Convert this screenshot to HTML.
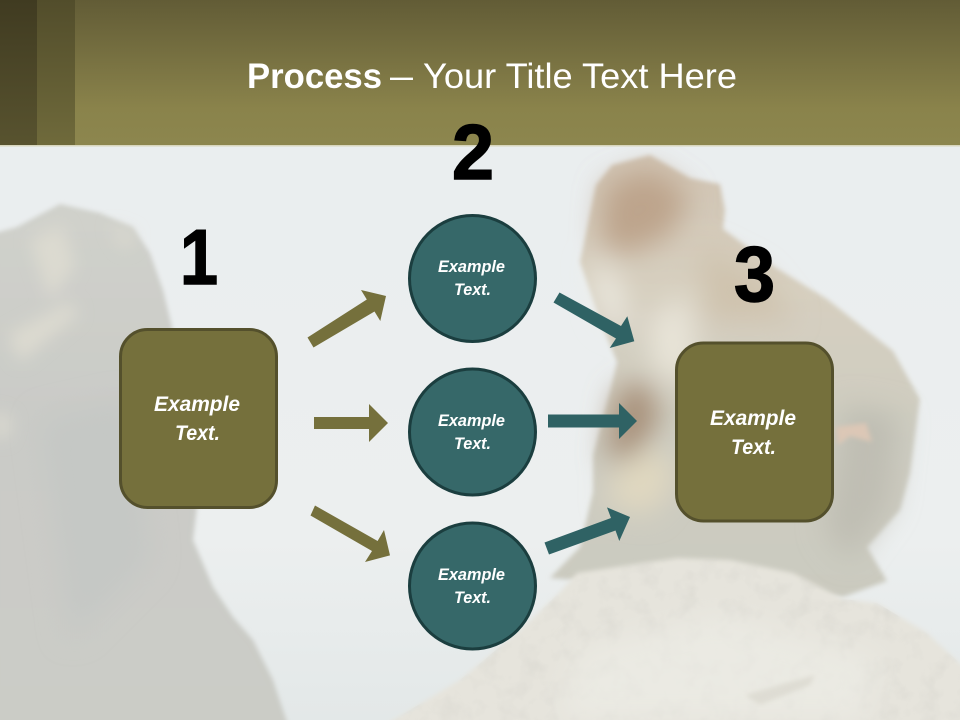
<!DOCTYPE html>
<html>
<head>
<meta charset="utf-8">
<style>
html,body{margin:0;padding:0;background:#e9edef}
svg{display:block}
text{font-family:"Liberation Sans",sans-serif}
.t{fill:#fff;font-weight:bold;font-style:italic}
.n{fill:#000;font-weight:bold;stroke:#000;stroke-width:1.5px}
</style>
</head>
<body>
<svg width="960" height="720" viewBox="0 0 960 720" xmlns="http://www.w3.org/2000/svg">
<defs>
<linearGradient id="sky" x1="0" y1="0" x2="0" y2="1"><stop offset="0" stop-color="#e9edef"/><stop offset=".75" stop-color="#ecefef"/><stop offset="1" stop-color="#e3e8e8"/></linearGradient>
<linearGradient id="hd" x1="0" y1="0" x2="0" y2="1"><stop offset="0" stop-color="#625c36"/><stop offset=".75" stop-color="#8a834b"/><stop offset="1" stop-color="#8c864e"/></linearGradient>
<linearGradient id="b1" x1="0" y1="0" x2="0" y2="1"><stop offset="0" stop-color="#403b21"/><stop offset="1" stop-color="#58532f"/></linearGradient>
<linearGradient id="b2" x1="0" y1="0" x2="0" y2="1"><stop offset="0" stop-color="#524d2b"/><stop offset="1" stop-color="#6f6a3b"/></linearGradient>
<linearGradient id="cliff" x1="0" y1="0" x2="0" y2="1"><stop offset="0" stop-color="#d0d1cb"/><stop offset=".4" stop-color="#cacbc7"/><stop offset="1" stop-color="#cbccc6"/></linearGradient>
<linearGradient id="fur" x1="0" y1="0" x2="0" y2="1"><stop offset="0" stop-color="#d0c3b2"/><stop offset=".3" stop-color="#d6cfbf"/><stop offset=".65" stop-color="#cdccc1"/><stop offset="1" stop-color="#cbcabf"/></linearGradient>
<filter id="bl3" x="-10%" y="-10%" width="120%" height="120%"><feGaussianBlur stdDeviation="2.5"/></filter>
<filter id="bl8" x="-40%" y="-40%" width="180%" height="180%"><feGaussianBlur stdDeviation="8"/></filter>
<filter id="bl14" x="-60%" y="-60%" width="220%" height="220%"><feGaussianBlur stdDeviation="14"/></filter>
<filter id="grain" x="0" y="0" width="100%" height="100%">
<feTurbulence type="fractalNoise" baseFrequency="0.05" numOctaves="3" seed="4"/>
<feColorMatrix values="0 0 0 0 0.6  0 0 0 0 0.59  0 0 0 0 0.55  1.2 0 0 0 -0.55"/>
<feComposite in2="SourceAlpha" operator="in"/>
</filter>
</defs>

<rect width="960" height="720" fill="url(#sky)"/>

<!-- left cliff -->
<path filter="url(#bl3)" fill="url(#cliff)" d="M-5 233L17 227L60 204L100 213L133 227L150 253L163 290L172 327L180 400L190 470L197 507L193 540L213 587L233 617L253 640L273 680L288 725L-5 725Z"/>
<g filter="url(#bl8)" fill="#dcdad0">
<path d="M8 335L70 302L78 314L20 362Z"/>
<path d="M30 240L62 225L75 265L50 300Z"/>
<path d="M-5 410L12 420L5 440L-5 435Z"/>
<path d="M110 225L135 235L125 250Z"/>
</g>
<g filter="url(#bl14)" fill="#c5c8c5">
<path d="M40 420L130 400L150 560L70 640Z"/>
</g>

<!-- monkey -->
<path filter="url(#bl3)" fill="url(#fur)" d="M650 155L612 165L596 185L590 214L580 262L600 320L617 362L610 392L593 455L593 492L580 547L550 578L700 590L843 597L887 581L867 547L900 510L910 473L920 399L893 351L827 299L773 266L723 229L725 210L720 184L690 178Z"/>
<g filter="url(#bl14)">
<path fill="#bda48c" d="M605 185L650 168L690 195L670 235L625 255L600 240Z"/>
<path fill="#e8e4d8" d="M650 315L690 295L698 370L670 385L650 360Z"/>
<path fill="#efede5" d="M590 260L615 275L630 330L605 320Z"/>
<path fill="#a8917a" d="M616 392L648 380L660 420L635 455L605 462Z"/>
<path fill="#e0d8c0" d="M615 470L660 445L675 480L650 515L608 505Z"/>
<path fill="#bfbeb3" d="M845 405L900 415L890 505L850 560L825 530Z"/>
<path fill="#cfc3ae" d="M700 245L760 275L795 320L705 320Z"/>
</g>
<path filter="url(#bl3)" fill="#dcc7b6" d="M836 427L866 423L872 442L850 436L838 445Z"/>

<!-- right rock -->
<path filter="url(#bl3)" fill="#e6e4dc" d="M385 725L460 680L520 630L560 592L577 573L677 558L730 560L793 573L843 599L877 603L927 633L965 668L965 725Z"/>
<path filter="url(#grain)" opacity=".55" d="M385 725L460 680L520 630L560 592L577 573L677 558L730 560L793 573L843 599L877 603L927 633L965 668L965 725Z"/>
<g filter="url(#bl14)">
<path fill="#efeee8" d="M580 650L720 615L880 660L860 720L560 720Z" opacity=".6"/>
</g>
<path filter="url(#bl3)" fill="#d9d7cd" d="M745 695L815 675L810 685L760 705Z" opacity=".7"/>

<!-- header -->
<rect width="960" height="145" fill="url(#hd)"/>
<rect width="37" height="145" fill="url(#b1)"/>
<rect x="37" width="38" height="145" fill="url(#b2)"/>
<rect y="145" width="960" height="1.5" fill="#d8d6bd"/>

<text x="247" y="88" font-size="35" font-weight="bold" fill="#fff" textLength="135" lengthAdjust="spacingAndGlyphs">Process</text>
<text x="390" y="88" font-size="35" fill="#fff" textLength="23" lengthAdjust="spacingAndGlyphs">–</text>
<text x="423" y="88" font-size="35" fill="#fff" textLength="314" lengthAdjust="spacingAndGlyphs">Your Title Text Here</text>

<!-- numbers -->
<text class="n" x="180" y="284" font-size="78" textLength="38" lengthAdjust="spacingAndGlyphs">1</text>
<text class="n" x="452" y="179" font-size="78" textLength="42" lengthAdjust="spacingAndGlyphs">2</text>
<text class="n" x="734" y="301" font-size="78" textLength="41" lengthAdjust="spacingAndGlyphs">3</text>

<!-- boxes -->
<rect x="120.5" y="329.5" width="156" height="178" rx="27" fill="#75703c" stroke="#54502c" stroke-width="3"/>
<rect x="676.5" y="343" width="156" height="178" rx="27" fill="#75703c" stroke="#54502c" stroke-width="3"/>

<!-- circles -->
<circle cx="472.5" cy="278.5" r="63" fill="#366869" stroke="#1b3e3f" stroke-width="3"/>
<circle cx="472.5" cy="432" r="63" fill="#366869" stroke="#1b3e3f" stroke-width="3"/>
<circle cx="472.5" cy="586" r="63" fill="#366869" stroke="#1b3e3f" stroke-width="3"/>

<!-- olive arrows -->
<g fill="#75703c">
<polygon points="307.5,337.5 313.5,347.5 374.5,311.5 380.3,321 386,296 361,290 366.8,299.5"/>
<polygon points="314,417 369,417 369,404 388,423 369,442 369,429 314,429"/>
<polygon points="315,505.5 310.5,515.5 372,551 365,562 390,555.4 384,530 377.6,541"/>
</g>
<!-- teal arrows -->
<g fill="#2f6264">
<polygon points="559.5,292.5 553.5,302.5 616,338.5 609.7,348 634.3,341.3 627.3,316.3 621,326"/>
<polygon points="548,414.5 619,414.5 619,403 637,421 619,439 619,427.5 548,427.5"/>
<polygon points="544.5,542.5 549,554.5 615.5,530.5 619.3,541 630,517 607,507.4 611,518"/>
</g>

<!-- labels -->
<text class="t" x="154" y="411" font-size="21" textLength="86" lengthAdjust="spacingAndGlyphs">Example</text>
<text class="t" x="175" y="440" font-size="21" textLength="45" lengthAdjust="spacingAndGlyphs">Text.</text>
<text class="t" x="710" y="425" font-size="21" textLength="86" lengthAdjust="spacingAndGlyphs">Example</text>
<text class="t" x="731" y="454" font-size="21" textLength="45" lengthAdjust="spacingAndGlyphs">Text.</text>

<text class="t" x="438" y="272" font-size="16.5" textLength="67" lengthAdjust="spacingAndGlyphs">Example</text>
<text class="t" x="454" y="295" font-size="16.5" textLength="37" lengthAdjust="spacingAndGlyphs">Text.</text>
<text class="t" x="438" y="426" font-size="16.5" textLength="67" lengthAdjust="spacingAndGlyphs">Example</text>
<text class="t" x="454" y="449" font-size="16.5" textLength="37" lengthAdjust="spacingAndGlyphs">Text.</text>
<text class="t" x="438" y="580" font-size="16.5" textLength="67" lengthAdjust="spacingAndGlyphs">Example</text>
<text class="t" x="454" y="603" font-size="16.5" textLength="37" lengthAdjust="spacingAndGlyphs">Text.</text>
</svg>
</body>
</html>
